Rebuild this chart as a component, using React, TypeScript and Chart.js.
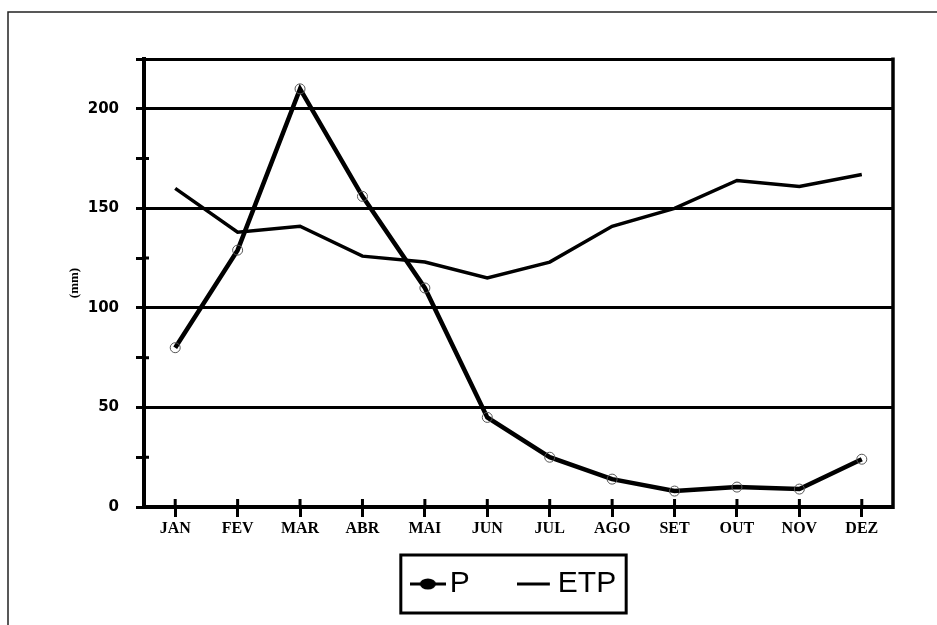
import React, { useEffect, useRef } from 'react';
import { Chart, registerables } from 'chart.js';

Chart.register(...registerables);

const months = ['JAN', 'FEV', 'MAR', 'ABR', 'MAI', 'JUN', 'JUL', 'AGO', 'SET', 'OUT', 'NOV', 'DEZ'];
const pValues = [80, 129, 210, 156, 110, 45, 25, 14, 8, 10, 9, 24];
const etpValues = [160, 138, 141, 126, 123, 115, 123, 141, 150, 164, 161, 167];
const seriesNames = ['P', 'ETP'];
const yTitle = '(mm)';
const yMin = 0;
const yMax = 225;
const yStep = 25;
const yLabelStep = 50;

function makeIcon(kind: string): HTMLCanvasElement {
  const c = document.createElement('canvas');
  if (kind === 'P') {
    c.width = 36;
    c.height = 14;
    const g = c.getContext('2d')!;
    g.strokeStyle = '#000';
    g.lineWidth = 3;
    g.beginPath();
    g.moveTo(0, 7);
    g.lineTo(36, 7);
    g.stroke();
    g.fillStyle = '#000';
    g.beginPath();
    g.ellipse(18, 7, 8, 5.5, 0, 0, Math.PI * 2);
    g.fill();
  } else {
    c.width = 38;
    c.height = 8;
    const g = c.getContext('2d')!;
    g.strokeStyle = '#000';
    g.lineWidth = 3;
    g.beginPath();
    g.moveTo(0, 4);
    g.lineTo(33, 4);
    g.stroke();
  }
  return c;
}

const framePlugin = {
  id: 'frameDecor',
  afterLayout(chart: any) {
    const lg = chart.legend;
    if (lg) {
      lg.top = chart.chartArea.bottom + 3;
      lg.height = 110;
      lg.bottom = lg.top + lg.height;
    }
  },
  afterDraw(chart: any) {
    const { ctx, chartArea: a, scales } = chart;
    ctx.save();
    ctx.strokeStyle = '#000';
    // right border of plot
    ctx.lineWidth = 3.5;
    ctx.beginPath();
    ctx.moveTo(a.right, a.top - 1.5);
    ctx.lineTo(a.right, a.bottom + 2);
    ctx.stroke();
    // x tick marks above the axis
    const xs = scales.x;
    ctx.lineWidth = 3;
    ctx.beginPath();
    xs.ticks.forEach((_: any, i: number) => {
      const px = xs.getPixelForTick(i);
      ctx.moveTo(px, a.bottom - 8);
      ctx.lineTo(px, a.bottom);
    });
    ctx.stroke();
    // y minor tick marks inside
    const ys = scales.y;
    ctx.beginPath();
    ys.ticks.forEach((t: any, i: number) => {
      if (t.value % yLabelStep !== 0 && t.value !== yMax) {
        const py = ys.getPixelForTick(i);
        ctx.moveTo(a.left, py);
        ctx.lineTo(a.left + 5, py);
      }
    });
    ctx.stroke();
    // legend frame
    const lg = chart.legend;
    if (lg && lg.legendHitBoxes && lg.legendHitBoxes.length) {
      const hb = lg.legendHitBoxes;
      const first = hb[0];
      const last = hb[hb.length - 1];
      const cy = first.top + first.height / 2;
      const l = first.left - 20;
      const r = last.left + last.width + 10;
      ctx.lineWidth = 3;
      ctx.strokeRect(l, cy - 29, r - l, 58);
    }
    // outer page frame (top and left)
    ctx.lineWidth = 1.5;
    ctx.strokeStyle = '#222';
    ctx.beginPath();
    ctx.moveTo(8, 625);
    ctx.lineTo(8, 12);
    ctx.lineTo(937, 12);
    ctx.stroke();
    ctx.restore();
  },
};

export default function App() {
  const ref = useRef<HTMLCanvasElement | null>(null);

  useEffect(() => {
    if (!ref.current) return;
    const icons = [makeIcon('P'), makeIcon('ETP')];
    const chart = new Chart(ref.current, {
      type: 'line',
      data: {
        labels: months,
        datasets: [
          {
            label: seriesNames[0],
            data: pValues,
            borderColor: '#000',
            borderWidth: 4.5,
            tension: 0,
            pointRadius: 5,
            pointBorderWidth: 1,
            pointBorderColor: '#555',
            pointBackgroundColor: 'rgba(255,255,255,0)',
            fill: false,
          },
          {
            label: seriesNames[1],
            data: etpValues,
            borderColor: '#000',
            borderWidth: 3.5,
            tension: 0,
            pointRadius: 0,
            fill: false,
          },
        ],
      },
      options: {
        responsive: false,
        animation: false,
        devicePixelRatio: 1,
        layout: { padding: { top: 59, right: 44, bottom: 46, left: 0 } },
        plugins: {
          tooltip: { enabled: false },
          legend: {
            display: true,
            position: 'bottom',
            fullSize: false,
            maxHeight: 40,
            labels: {
              usePointStyle: true,
              pointStyleWidth: 14,
              padding: 59,
              color: '#000',
              font: { family: 'Liberation Sans, Arial, sans-serif', size: 30 },
              generateLabels: (c: any) => {
                const items = (Chart.defaults.plugins.legend.labels as any).generateLabels(c);
                items.forEach((it: any, i: number) => {
                  it.pointStyle = icons[i];
                });
                return items;
              },
            },
          },
        },
        scales: {
          x: {
            type: 'category',
            offset: true,
            afterFit: (s: any) => {
              s.height = 32;
            },
            grid: {
              drawOnChartArea: false,
              drawTicks: true,
              tickLength: 10,
              tickColor: '#000',
              tickWidth: 3,
              offset: false,
            },
            border: { display: true, color: '#000', width: 4 },
            ticks: {
              color: '#000',
              padding: 2,
              maxRotation: 0,
              autoSkip: false,
              font: { family: 'Liberation Serif, Times New Roman, serif', size: 16, weight: 'bold' },
            },
          },
          y: {
            min: yMin,
            max: yMax,
            afterFit: (s: any) => {
              s.width = 144;
            },
            title: {
              display: true,
              text: yTitle,
              color: '#000',
              padding: { top: 67, bottom: 2 },
              font: { family: 'Liberation Serif, Times New Roman, serif', size: 13, weight: 'bold' },
            },
            grid: {
              color: (ctx: any) => {
                const v = ctx.tick ? ctx.tick.value : 0;
                return v % yLabelStep === 0 || v === yMax ? '#000' : 'rgba(0,0,0,0)';
              },
              lineWidth: 3,
              tickColor: '#000',
              tickWidth: 3,
              tickLength: 8,
            },
            border: { display: true, color: '#000', width: 4 },
            ticks: {
              stepSize: yStep,
              color: '#000',
              padding: 17,
              font: { family: 'DejaVu Sans, sans-serif', size: 15, weight: 'bold' },
              callback: (v: any) => (Number(v) % yLabelStep === 0 ? String(v) : ''),
            },
          },
        },
      },
      plugins: [framePlugin],
    });
    return () => chart.destroy();
  }, []);

  return (
    <div style={{ position: 'fixed', left: 0, top: 0, width: 937, height: 625, background: '#fff' }}>
      <canvas ref={ref} width={937} height={625} style={{ display: 'block' }} />
    </div>
  );
}
